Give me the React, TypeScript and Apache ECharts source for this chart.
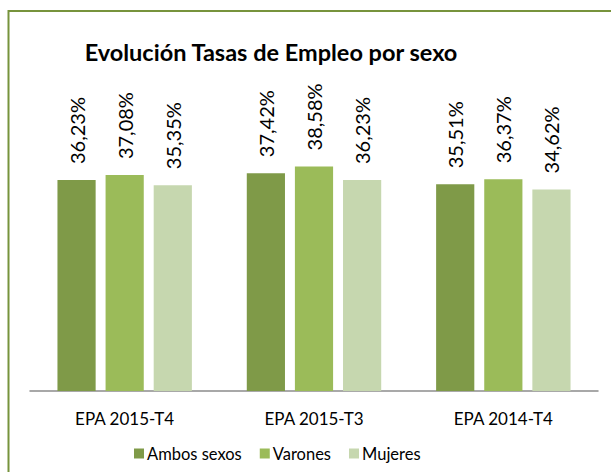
import React, { useEffect, useRef } from "react";
import * as echarts from "echarts";

const categories = ["EPA 2015-T4", "EPA 2015-T3", "EPA 2014-T4"];
const seriesNames = ["Ambos sexos", "Varones", "Mujeres"];
const ambos = [36.23, 37.42, 35.51];
const varones = [37.08, 38.58, 36.37];
const mujeres = [35.35, 36.23, 34.62];
const colors = ["#7F9A48", "#9BBB59", "#C6D7AF"];

const FONT = "Lato";

export default function App() {
  const ref = useRef<HTMLDivElement>(null);
  useEffect(() => {
    if (!ref.current) return;
    const chart = echarts.init(ref.current, null, { renderer: "svg" });
    const data = [ambos, varones, mujeres];
    chart.setOption({
      animation: false,
      backgroundColor: "#ffffff",
      textStyle: { fontFamily: FONT },
      title: {
        text: "Evolución Tasas de Empleo por sexo",
        left: 266,
        top: 35,
        textAlign: "center",
        textStyle: { fontFamily: FONT, fontWeight: "bold", fontSize: 23.5, color: "#000" },
      },
      graphic: [
        {
          type: "line",
          shape: { x1: 8.5, y1: 11, x2: 611, y2: 11 },
          style: { stroke: "#77933C", lineWidth: 2 },
          silent: true,
        },
        {
          type: "line",
          shape: { x1: 8.5, y1: 10, x2: 8.5, y2: 472 },
          style: { stroke: "#77933C", lineWidth: 2 },
          silent: true,
        },
      ],
      legend: {
        data: seriesNames,
        left: 129,
        top: 440,
        itemWidth: 10,
        itemHeight: 10,
        itemGap: 18,
        icon: "rect",
        textStyle: { fontFamily: FONT, fontSize: 16.5, color: "#000", padding: [0, 0, 0, -2] },
      },
      grid: { left: 30, right: 13, top: 129, bottom: 81, containLabel: false },
      xAxis: {
        type: "category",
        data: categories,
        axisLine: { lineStyle: { color: "#8C8C8C", width: 1.5 } },
        axisTick: { show: false },
        axisLabel: { fontFamily: FONT, fontSize: 17, color: "#000", margin: 19 },
      },
      yAxis: { type: "value", min: 0, max: 45, show: false, splitLine: { show: false } },
      series: seriesNames.map((name, i) => ({
        name,
        type: "bar",
        data: data[i],
        barGap: "26%",
        barCategoryGap: "29%",
        itemStyle: { color: colors[i] },
        label: {
          show: true,
          position: "top",
          rotate: 90,
          align: "left",
          verticalAlign: "middle",
          distance: 16,
          fontFamily: FONT,
          fontSize: 20,
          color: "#000",
          formatter: (p: any) => p.value.toFixed(2).replace(".", ",") + "%",
        },
      })),
    });
    return () => chart.dispose();
  }, []);
  return (
    <div
      ref={ref}
      style={{ position: "absolute", left: 0, top: 0, width: 611, height: 472 }}
    />
  );
}
